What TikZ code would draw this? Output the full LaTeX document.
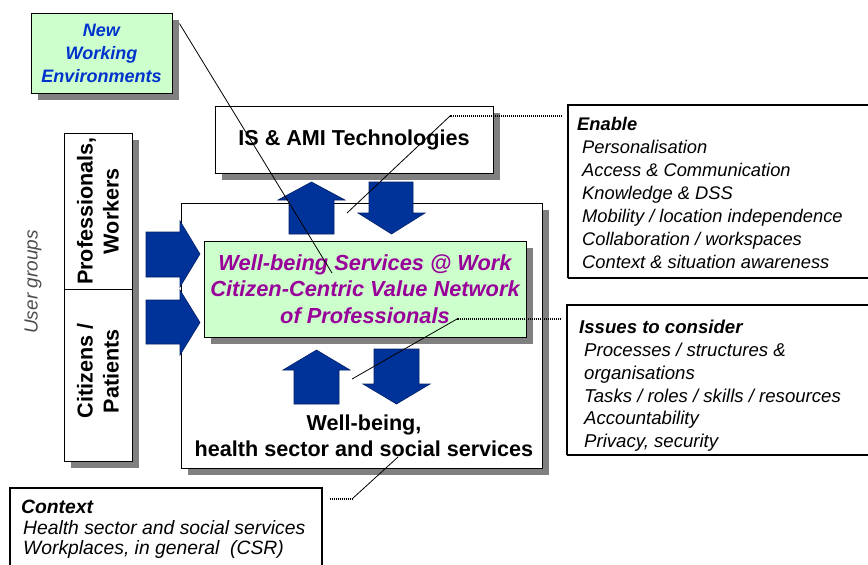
\documentclass[tikz,border=0pt]{standalone}
\usepackage{fontspec}
\setmainfont{Liberation Sans}
\usetikzlibrary{shadows,calc}

\definecolor{paleGreen}{HTML}{CCFFCC}
\definecolor{plum}{HTML}{990099}
\definecolor{navy}{HTML}{003399}
\definecolor{navyEdge}{HTML}{001F66}
\definecolor{nweBlue}{HTML}{0033CC}
\definecolor{shade}{HTML}{808080}
\definecolor{labelGrey}{HTML}{4D4D4D}

\newcommand\setfs[2]{\fontsize{#1}{#2}\selectfont}

\tikzset{
  shadowed/.style={drop shadow={shadow xshift=7pt, shadow yshift=-7pt, fill=shade, opacity=1}},
  box/.style={draw=black, line width=0.9pt, fill=white, inner sep=0pt, shadowed},
  greenbox/.style={box, fill=paleGreen},
  notebox/.style={draw=black, line width=1.1pt, dash pattern=on 1.6pt off 0.4pt, fill=white, inner sep=0pt},
  blockarrow/.style={fill=navy, draw=navyEdge, line width=0.6pt, line join=miter},
  leader/.style={draw=black, line width=0.8pt},
  dotleader/.style={draw=black, line width=1.1pt, dash pattern=on 1.6pt off 0.4pt},
  heading/.style={font=\setfs{21.6}{26}\bfseries, align=center, inner sep=0pt},
  notetext/.style={font=\setfs{18.4}{23}\itshape, align=left, inner sep=0pt, anchor=north west},
}

\begin{document}
\begin{tikzpicture}[x=1pt, y=-1pt]
\useasboundingbox (0,0) rectangle (868,565);

% main service area and technology layer
\node[box, minimum width=361pt, minimum height=265pt] (wb) at (361.5,335.5) {};
\node[box, minimum width=278pt, minimum height=67pt, heading] (ami) at (354,139.5) {IS \& AMI Technologies};

% user group column
\node[box, minimum width=68pt, minimum height=156pt] (pro) at (98,211) {};
\node[box, minimum width=68pt, minimum height=172pt] (cit) at (98,375) {};
\node[heading, rotate=90] (protext) at (pro) {Professionals,\\Workers};
\node[heading, rotate=90] (cittext) at ([yshift=4pt]cit.center) {Citizens /\\Patients};
\node[font=\setfs{19}{23}\itshape, text=labelGrey, rotate=90, inner sep=0pt] (users) at (33,282) {User groups};

% new working environments
\node[greenbox, minimum width=141pt, minimum height=80pt, align=center,
      font=\setfs{18}{23}\bfseries\itshape, text=nweBlue] (nwe) at (101.5,53) {New\\Working\\Environments};

% central value network
\node[greenbox, minimum width=322pt, minimum height=96pt, align=center,
      font=\setfs{21.8}{26.5}\bfseries\itshape, text=plum] (vn) at (365,289)
      {Well-being Services @ Work\\Citizen-Centric Value Network\\of Professionals};

\node[heading] (wbtext) at (364,436) {Well-being,\\health sector and social services};

% block arrows
\filldraw[blockarrow] (289,234) -- (289,200) -- (278,200) -- (311.5,182) -- (345,200) -- (334,200) -- (334,234) -- cycle;
\filldraw[blockarrow] (369,182) -- (413,182) -- (413,213) -- (425,213) -- (391.5,234) -- (358,213) -- (369,213) -- cycle;
\filldraw[blockarrow] (294,404) -- (294,370) -- (283,370) -- (316.5,350) -- (350,370) -- (339,370) -- (339,404) -- cycle;
\filldraw[blockarrow] (374,349) -- (419,349) -- (419,384) -- (430,384) -- (396.5,404) -- (363,384) -- (374,384) -- cycle;
\filldraw[blockarrow] (146,232) -- (180,232) -- (180,221) -- (200,254) -- (180,287) -- (180,277) -- (146,277) -- cycle;
\filldraw[blockarrow] (146,300) -- (180,300) -- (180,290) -- (200,322.5) -- (180,355) -- (180,344) -- (146,344) -- cycle;

% note boxes
\node[notebox, minimum width=304pt, minimum height=173pt] (enable) at (720,191.5) {};
\node[notetext, font=\setfs{18.3}{23}\itshape] (enabletext) at (577,117.5)
  {\bfseries Enable\\
   \hspace*{5pt}Personalisation\\
   \hspace*{5pt}Access \& Communication\\
   \hspace*{5pt}Knowledge \& DSS\\
   \hspace*{5pt}Mobility / location independence\\
   \hspace*{5pt}Collaboration / workspaces\\
   \hspace*{5pt}Context \& situation awareness};

\node[notebox, minimum width=305pt, minimum height=150pt] (issues) at (719.5,380) {};
\node[notetext, font=\setfs{18.6}{22.8}\itshape] (issuestext) at (579,320)
  {\bfseries Issues to consider\\
   \hspace*{5pt}Processes / structures \&\\
   \hspace*{5pt}organisations\\
   \hspace*{5pt}Tasks / roles / skills / resources\\
   \hspace*{5pt}Accountability\\
   \hspace*{5pt}Privacy, security};

\node[notebox, minimum width=312pt, minimum height=90pt] (context) at (166,533) {};
\node[notetext, font=\setfs{19.3}{20.5}\itshape] (contexttext) at (21,500)
  {\bfseries Context\\
   \hspace*{2pt}Health sector and social services\\
   \hspace*{2pt}Workplaces, in general~ (CSR)};

% callout leaders
\coordinate (enableKnee) at (450,116);
\coordinate (enableEnd) at (347,213);
\coordinate (issuesKnee) at (457,319);
\coordinate (issuesEnd) at (352,379);
\coordinate (contextKnee) at (352,499);
\coordinate (contextEnd) at (398,457);
\coordinate (nweEnd) at (332,273);

\draw[dotleader] ([xshift=-5pt]enableKnee -| enable.west) -- (enableKnee);
\draw[leader] (enableKnee) -- (enableEnd);
\draw[dotleader] ([xshift=-5pt]issuesKnee -| issues.west) -- (issuesKnee);
\draw[leader] (issuesKnee) -- (issuesEnd);
\draw[dotleader] ([xshift=7pt]contextKnee -| context.east) -- (contextKnee);
\draw[leader] (contextKnee) -- (contextEnd);
\draw[leader] ($(nwe.north east)+(7,11)$) -- (nweEnd);
\end{tikzpicture}
\end{document}
